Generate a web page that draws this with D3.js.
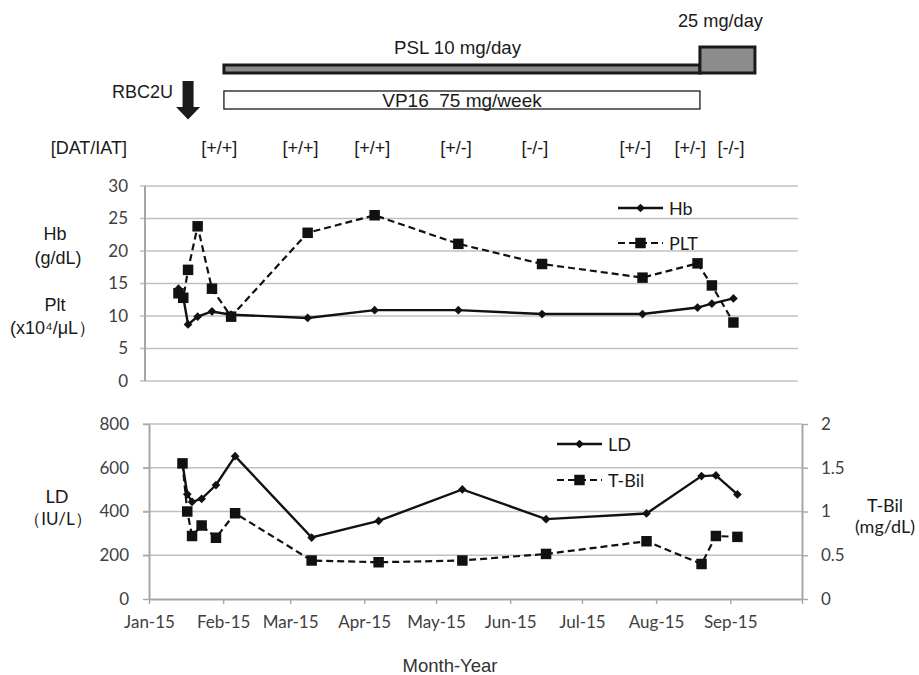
<!DOCTYPE html>
<html>
<head>
<meta charset="utf-8">
<script src="https://cdn.jsdelivr.net/npm/d3@7"></script>
<style>
  body { margin: 0; background: #fff; }
  svg text { font-family: "Liberation Sans", Arial, sans-serif; fill: #1a1a1a; }
  .tick text, .calib { font-family: Lato, "Noto Sans", sans-serif; }
</style>
</head>
<body>
<svg id="chart" width="919" height="675"></svg>
<script>
// sampling dates (shared by both panels)
const sampleDates = ["2015-01-15", "2015-01-17", "2015-01-19", "2015-01-23", "2015-01-29", "2015-02-06",
  "2015-03-10", "2015-04-07", "2015-05-12", "2015-06-16", "2015-07-28", "2015-08-20", "2015-08-26", "2015-09-04"];
const hb = [14.2, 12.9, 8.7, 9.9, 10.7, 10.2, 9.7, 10.9, 10.9, 10.3, 10.3, 11.3, 11.9, 12.7];
const plt = [13.5, 12.8, 17.1, 23.8, 14.2, 9.9, 22.8, 25.5, 21.1, 18.0, 15.9, 18.1, 14.7, 9.0];
const ld = [620, 479, 444, 458, 521, 653, 281, 357, 501, 365, 391, 562, 565, 478];
const tbil = [1.55, 1.0, 0.72, 0.84, 0.70, 0.98, 0.44, 0.42, 0.44, 0.515, 0.66, 0.40, 0.72, 0.71];

const monthTicks = ["2015-01-01", "2015-02-01", "2015-03-01", "2015-04-01", "2015-05-01", "2015-06-01",
  "2015-07-01", "2015-08-01", "2015-09-01", "2015-10-01"];
const monthLabels = ["Jan-15", "Feb-15", "Mar-15", "Apr-15", "May-15", "Jun-15", "Jul-15", "Aug-15", "Sep-15", ""];
const hbTicks = [0, 5, 10, 15, 20, 25, 30];
const ldTicks = [0, 200, 400, 600, 800];
const tbilTicks = [0, 0.5, 1, 1.5, 2];
const tbilLabels = ["0", "0.5", "1", "1.5", "2"];

// treatment timeline
const pslPeriod = ["2015-02-03", "2015-08-21"];
const psl25Period = ["2015-08-21", "2015-09-13"];
const vp16Period = ["2015-02-03", "2015-08-21"];
const rbcDate = "2015-01-19";
const datIatDates = ["2015-02-01", "2015-03-07", "2015-04-06", "2015-05-11", "2015-06-13", "2015-07-25", "2015-08-17", "2015-09-03"];
const datIatLabels = ["[+/+]", "[+/+]", "[+/+]", "[+/-]", "[-/-]", "[+/-]", "[+/-]", "[-/-]"];

const parse = d3.timeParse("%Y-%m-%d");
const svg = d3.select("#chart");
const gridColor = "#c0c0c0", axisColor = "#a6a6a6", labelColor = "#404040";

const xDomain = [parse(monthTicks[0]), parse(monthTicks[monthTicks.length - 1])];
const xTop = d3.scaleTime().domain(xDomain).range([145, 798]);
const xBot = d3.scaleTime().domain(xDomain).range([149, 802]);
const yHb = d3.scaleLinear().domain([0, 30]).range([381, 186]);
const yLd = d3.scaleLinear().domain([0, 800]).range([599, 424]);
const yBil = d3.scaleLinear().domain([0, 2]).range([599, 424]);

const diamond = d3.symbol().type(d3.symbolSquare).size(38)();
const square = d3.symbol().type(d3.symbolSquare).size(110)();

function series(g, x, y, values, dashed, marker) {
  const pts = values.map((v, i) => ({ d: parse(sampleDates[i]), v }));
  g.append("path").datum(pts)
    .attr("fill", "none").attr("stroke", "#111").attr("stroke-width", dashed ? 2.2 : 2.4)
    .attr("stroke-dasharray", dashed ? "7,4" : null)
    .attr("d", d3.line().x(p => x(p.d)).y(p => y(p.v)));
  g.selectAll(null).data(pts).join("path")
    .attr("d", marker === "diamond" ? diamond : square)
    .attr("fill", "#111")
    .attr("transform", p => `translate(${x(p.d)},${y(p.v)})` + (marker === "diamond" ? " rotate(45)" : ""));
}

function legendItem(g, x0, y0, label, dashed, marker) {
  g.append("line").attr("x1", x0).attr("x2", x0 + 45).attr("y1", y0).attr("y2", y0)
    .attr("stroke", "#111").attr("stroke-width", dashed ? 2.2 : 2.4)
    .attr("stroke-dasharray", dashed ? "7,4" : null);
  g.append("path").attr("d", marker === "diamond" ? diamond : square).attr("fill", "#111")
    .attr("transform", `translate(${x0 + 22.5},${y0})` + (marker === "diamond" ? " rotate(45)" : ""));
  g.append("text").attr("class", "calib").attr("x", x0 + 51).attr("y", y0 + 6.5)
    .attr("font-size", 18).style("fill", "#1a1a1a").text(label);
}

// ---------- top panel: Hb / PLT ----------
const topG = svg.append("g");
topG.selectAll(null).data(hbTicks).join("line")
  .attr("x1", 140).attr("x2", 798).attr("y1", d => yHb(d)).attr("y2", d => yHb(d))
  .attr("stroke", gridColor).attr("stroke-width", 1.4);
topG.append("line").attr("x1", 145).attr("x2", 145).attr("y1", yHb(30)).attr("y2", yHb(0))
  .attr("stroke", axisColor).attr("stroke-width", 2);
const topAxis = topG.append("g").attr("transform", "translate(145,0)")
  .call(d3.axisLeft(yHb).tickValues(hbTicks).tickSize(5).tickPadding(12).tickSizeOuter(0));
topAxis.select(".domain").remove();
topAxis.selectAll("line").remove();
topAxis.selectAll("text").attr("font-size", 17).style("fill", labelColor);

series(topG, xTop, yHb, hb, false, "diamond");
series(topG, xTop, yHb, plt, true, "square");
legendItem(topG, 618, 208, "Hb", false, "diamond");
legendItem(topG, 618, 243, "PLT", true, "square");

topG.append("text").attr("x", 55).attr("y", 240).attr("text-anchor", "middle").attr("font-size", 18).text("Hb");
topG.append("text").attr("x", 58).attr("y", 264).attr("text-anchor", "middle").attr("font-size", 18).text("(g/dL)");
topG.append("text").attr("x", 55).attr("y", 311).attr("text-anchor", "middle").attr("font-size", 18).text("Plt");
topG.append("text").attr("x", 53).attr("y", 334).attr("text-anchor", "middle").attr("font-size", 18).text("(x10⁴/μL）");

// ---------- bottom panel: LD / T-Bil ----------
const bot = svg.append("g");
bot.selectAll(null).data(ldTicks.slice(1)).join("line")
  .attr("x1", 143).attr("x2", 802).attr("y1", d => yLd(d)).attr("y2", d => yLd(d))
  .attr("stroke", gridColor).attr("stroke-width", 1.4);

const leftAxis = bot.append("g").attr("transform", "translate(149,0)")
  .call(d3.axisLeft(yLd).tickValues(ldTicks).tickSize(6).tickPadding(14).tickSizeOuter(0));
const rightAxis = bot.append("g").attr("transform", "translate(802,0)")
  .call(d3.axisRight(yBil).tickValues(tbilTicks).tickSize(6).tickPadding(13).tickSizeOuter(0)
    .tickFormat((d, i) => tbilLabels[i]));
const xAxis = bot.append("g").attr("transform", "translate(0,599)")
  .call(d3.axisBottom(xBot).tickValues(monthTicks.map(parse)).tickSize(5).tickPadding(12)
    .tickSizeOuter(0).tickFormat((d, i) => monthLabels[i]));
[leftAxis, rightAxis, xAxis].forEach(a => {
  a.select(".domain").attr("stroke", axisColor).attr("stroke-width", 2);
  a.selectAll(".tick line").attr("stroke", axisColor).attr("stroke-width", 1.4);
  a.selectAll("text").attr("font-size", 17).style("fill", labelColor);
});

series(bot, xBot, yLd, ld, false, "diamond");
series(bot, xBot, yBil, tbil, true, "square");
legendItem(bot, 557, 444, "LD", false, "diamond");
legendItem(bot, 557, 480, "T-Bil", true, "square");

bot.append("text").attr("class", "calib").attr("x", 57).attr("y", 503).attr("text-anchor", "middle").attr("font-size", 18).text("LD");
bot.append("text").attr("class", "calib").attr("x", 58).attr("y", 525).attr("text-anchor", "middle").attr("font-size", 17).text("（IU/L）");
bot.append("text").attr("class", "calib").attr("x", 885).attr("y", 512).attr("text-anchor", "middle").attr("font-size", 18).text("T-Bil");
bot.append("text").attr("class", "calib").attr("x", 885).attr("y", 533).attr("text-anchor", "middle").attr("font-size", 18).text("(mg/dL)");
bot.append("text").attr("x", 450).attr("y", 672).attr("text-anchor", "middle").attr("font-size", 18.5)
  .style("fill", "#333").text("Month-Year");

// ---------- treatment timeline ----------
const tl = svg.append("g");
tl.append("rect")
  .attr("x", xTop(parse(pslPeriod[0]))).attr("y", 65)
  .attr("width", xTop(parse(pslPeriod[1])) - xTop(parse(pslPeriod[0]))).attr("height", 8)
  .attr("fill", "#8c8c8c").attr("stroke", "#1a1a1a").attr("stroke-width", 3);
tl.append("rect")
  .attr("x", xTop(parse(psl25Period[0]))).attr("y", 47)
  .attr("width", xTop(parse(psl25Period[1])) - xTop(parse(psl25Period[0]))).attr("height", 26)
  .attr("fill", "#8c8c8c").attr("stroke", "#1a1a1a").attr("stroke-width", 3);
tl.append("rect")
  .attr("x", xTop(parse(vp16Period[0]))).attr("y", 91)
  .attr("width", xTop(parse(vp16Period[1])) - xTop(parse(vp16Period[0]))).attr("height", 18)
  .attr("fill", "#fff").attr("stroke", "#1a1a1a").attr("stroke-width", 1.3);

tl.append("text").attr("x", 457.5).attr("y", 54).attr("text-anchor", "middle").attr("font-size", 18.7).text("PSL 10 mg/day");
tl.append("text").attr("x", 678).attr("y", 27).attr("font-size", 18.2).text("25 mg/day");
tl.append("text").attr("x", 462).attr("y", 107).attr("text-anchor", "middle").attr("font-size", 19)
  .style("white-space", "pre").text("VP16  75 mg/week");

const ax = xTop(parse(rbcDate));
tl.append("path")
  .attr("d", `M${ax - 5.5},81 H${ax + 5.5} V107 H${ax + 12} L${ax},119.5 L${ax - 12},107 H${ax - 5.5} Z`)
  .attr("fill", "#1a1a1a");
tl.append("text").attr("x", 173).attr("y", 98).attr("text-anchor", "end").attr("font-size", 18).text("RBC2U");

tl.append("text").attr("x", 127).attr("y", 154).attr("text-anchor", "end").attr("font-size", 18).text("[DAT/IAT]");
tl.selectAll(null).data(datIatDates).join("text")
  .attr("x", d => xTop(parse(d))).attr("y", 154).attr("text-anchor", "middle").attr("font-size", 18)
  .text((d, i) => datIatLabels[i]);
</script>
</body>
</html>
